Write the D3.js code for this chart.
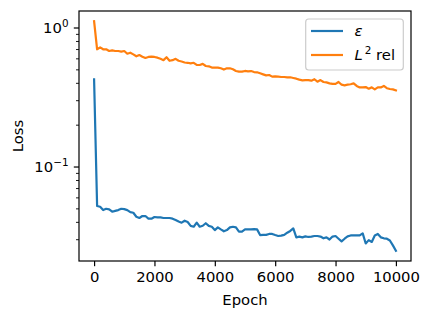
<!DOCTYPE html>
<html><head><meta charset="utf-8">
<script src="https://cdn.jsdelivr.net/npm/d3@7"></script>
<style>
html,body{margin:0;padding:0;background:#fff;}
svg{display:block;font-family:"DejaVu Sans",sans-serif;}
</style></head>
<body>
<svg id="chart" width="432" height="319"></svg>
<script>
// ---- data (one point every 100 epochs) ----
const epochs = d3.range(0, 10001, 100);
const epsLoss = [0.427,
 0.0524,0.0518,0.0490,0.0501,0.0496,0.0477,0.0484,0.0490,0.0501,0.0498,
 0.0490,0.0474,0.0469,0.0439,0.0430,0.0444,0.0444,0.0425,0.0425,0.0437,
 0.0434,0.0434,0.0430,0.0430,0.0430,0.0425,0.0416,0.0406,0.0398,0.0411,
 0.0402,0.0377,0.0372,0.0398,0.0372,0.0378,0.0394,0.0377,0.0372,0.0352,
 0.0368,0.0356,0.0345,0.0352,0.0368,0.0372,0.0368,0.0343,0.0343,0.0356,
 0.0356,0.0356,0.0358,0.0356,0.0324,0.0325,0.0325,0.0330,0.0330,0.0324,
 0.0319,0.0321,0.0325,0.0337,0.0347,0.0362,0.0312,0.0316,0.0312,0.0317,
 0.0314,0.0316,0.0319,0.0319,0.0316,0.0307,0.0312,0.0301,0.0316,0.0319,
 0.0305,0.0292,0.0305,0.0317,0.0322,0.0322,0.0322,0.0322,0.0333,0.0282,
 0.0298,0.0289,0.0322,0.0330,0.0312,0.0307,0.0305,0.0296,0.0273,0.0250];
const l2Rel = [1.12,
 0.703,0.726,0.703,0.703,0.683,0.690,0.683,0.683,0.676,0.683,
 0.653,0.664,0.646,0.626,0.639,0.622,0.609,0.619,0.622,0.619,
 0.612,0.600,0.587,0.616,0.581,0.587,0.600,0.581,0.574,0.565,
 0.562,0.556,0.562,0.542,0.542,0.552,0.533,0.530,0.519,0.519,
 0.519,0.513,0.502,0.513,0.513,0.505,0.491,0.485,0.485,0.491,
 0.488,0.490,0.482,0.480,0.472,0.464,0.456,0.459,0.447,0.449,
 0.447,0.444,0.444,0.442,0.442,0.437,0.432,0.425,0.420,0.422,
 0.422,0.418,0.428,0.411,0.422,0.409,0.406,0.400,0.396,0.396,
 0.409,0.391,0.387,0.391,0.394,0.400,0.383,0.374,0.374,0.376,
 0.366,0.374,0.362,0.374,0.374,0.383,0.369,0.364,0.362,0.356];
const xTicks = [0, 2000, 4000, 6000, 8000, 10000];
const yMajor = [1, 0.1];
const yMajorExp = ["0", "\u22121"];
const seriesNames = ["eps", "L2"];
const colors = ["#1f77b4", "#ff7f0e"];

// ---- layout ----
const L = 79, R = 411, T = 11, B = 261;
const svg = d3.select("#chart");
const x = d3.scaleLinear().domain([-500, 10500]).range([L, R]);
const y = d3.scaleLog().domain([Math.pow(10, -1.676), Math.pow(10, 0.1223)]).range([B, T]);

const minor = [];
[0.01, 0.1, 1].forEach(d => { for (let k = 2; k <= 9; k++) { const v = d * k; if (v >= y.domain()[0] && v <= y.domain()[1]) minor.push(v); } });

// lines
const line = d3.line().x((d, i) => x(epochs[i])).y(d => y(d));
[epsLoss, l2Rel].forEach((s, k) => {
  svg.append("path").datum(s).attr("d", line).attr("fill", "none")
    .attr("stroke", colors[k]).attr("stroke-width", 2.2)
    .attr("stroke-linejoin", "round").attr("stroke-linecap", "square");
});

// x axis
const xa = svg.append("g").attr("transform", `translate(0,${B})`)
  .call(d3.axisBottom(x).tickValues(xTicks).tickFormat(d3.format("d")).tickSize(5.2).tickPadding(5));
xa.select(".domain").remove();
xa.selectAll("line").attr("stroke", "#000").attr("stroke-width", 1.2);
xa.selectAll("text").attr("font-size", 14.8).attr("fill", "#000").attr("font-family", "DejaVu Sans");

// y ticks
const yg = svg.append("g");
yMajor.forEach((v, i) => {
  yg.append("line").attr("x1", L - 5.2).attr("x2", L).attr("y1", y(v)).attr("y2", y(v))
    .attr("stroke", "#000").attr("stroke-width", 1.2);
  const t = yg.append("text").attr("x", L - 10.5).attr("y", y(v) + 5.3)
    .attr("text-anchor", "end").attr("font-size", 14.8).attr("fill", "#000");
  t.append("tspan").text("10");
  t.append("tspan").attr("dy", -6.5).attr("font-size", 10.4).text(yMajorExp[i]);
});
minor.forEach(v => {
  yg.append("line").attr("x1", L - 3).attr("x2", L).attr("y1", y(v)).attr("y2", y(v))
    .attr("stroke", "#000").attr("stroke-width", 0.9);
});

// frame
svg.append("rect").attr("x", L).attr("y", T).attr("width", R - L).attr("height", B - T)
  .attr("fill", "none").attr("stroke", "#000").attr("stroke-width", 1.2);

// axis labels
svg.append("text").attr("x", (L + R) / 2).attr("y", 305).attr("text-anchor", "middle")
  .attr("font-size", 14.8).attr("fill", "#000").text("Epoch");
svg.append("text").attr("transform", `translate(23,${(T + B) / 2}) rotate(-90)`)
  .attr("text-anchor", "middle").attr("font-size", 14.8).attr("fill", "#000").text("Loss");

// legend
const lg = svg.append("g");
lg.append("rect").attr("x", 305.7).attr("y", 19).attr("width", 97.6).attr("height", 51)
  .attr("rx", 3).attr("fill", "#fff").attr("fill-opacity", 0.8)
  .attr("stroke", "#ccc").attr("stroke-width", 1.2);
const ly = [31, 55];
seriesNames.forEach((n, k) => {
  lg.append("line").attr("x1", 311).attr("x2", 343).attr("y1", ly[k]).attr("y2", ly[k])
    .attr("stroke", colors[k]).attr("stroke-width", 2.2);
  const t = lg.append("text").attr("x", 354.5).attr("y", ly[k] + 5).attr("font-size", 14.8).attr("fill", "#000");
  if (n === "eps") {
    t.append("tspan").attr("font-style", "italic").text("\u03b5");
  } else {
    t.append("tspan").attr("font-style", "italic").text("L");
    t.append("tspan").attr("dx", 2).attr("dy", -6.5).attr("font-size", 10.4).text("2");
    t.append("tspan").attr("dy", 6.5).text(" rel");
  }
});
</script>
</body></html>
